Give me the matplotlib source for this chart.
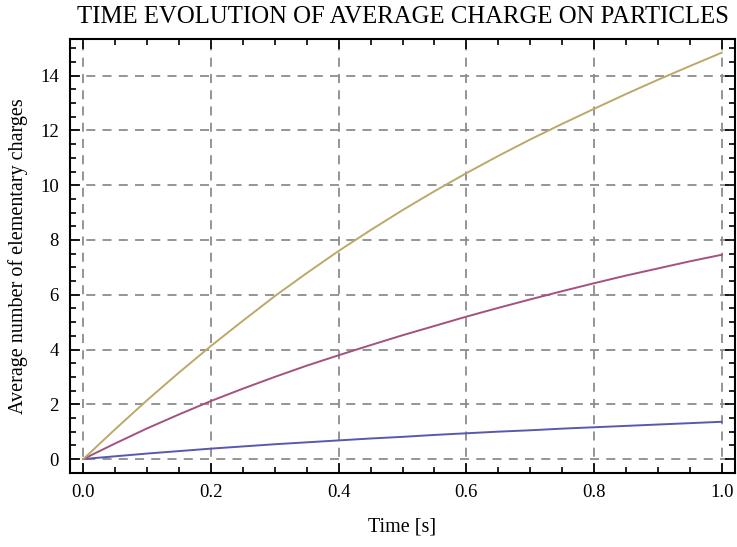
import matplotlib
matplotlib.use("Agg")
import matplotlib.pyplot as plt
from matplotlib.ticker import MultipleLocator

# time axis [s]
t = [0.0, 0.05, 0.1, 0.15, 0.2, 0.25, 0.3, 0.35, 0.4, 0.45, 0.5,
     0.55, 0.6, 0.65, 0.7, 0.75, 0.8, 0.85, 0.9, 0.95, 1.0]

# average number of elementary charges
q_blue = [0.0, 0.10, 0.20, 0.29, 0.38, 0.46, 0.54, 0.61, 0.68, 0.75, 0.81,
          0.88, 0.94, 1.00, 1.05, 1.11, 1.16, 1.21, 1.26, 1.31, 1.36]
q_purple = [0.0, 0.57, 1.12, 1.63, 2.12, 2.57, 3.00, 3.41, 3.79, 4.16, 4.52,
            4.86, 5.20, 5.52, 5.83, 6.13, 6.42, 6.70, 6.96, 7.22, 7.46]
q_tan = [0.0, 1.09, 2.15, 3.16, 4.13, 5.05, 5.95, 6.79, 7.60, 8.36, 9.09,
         9.78, 10.44, 11.07, 11.67, 12.24, 12.79, 13.33, 13.85, 14.35, 14.84]

plt.rcParams['font.family'] = ['Liberation Serif', 'DejaVu Serif']

fig = plt.figure(figsize=(7.37, 5.47), dpi=100)
ax = fig.add_axes([0.095, 0.1358, 0.9023, 0.7924])

ax.plot(t, q_blue, color='#5858b0', lw=1.4)
ax.plot(t, q_purple, color='#a5507e', lw=1.4)
ax.plot(t, q_tan, color='#bba96a', lw=1.4)

ax.set_xlim(-0.0208, 1.0208)
ax.set_ylim(-0.5, 15.33)
ax.xaxis.set_major_locator(MultipleLocator(0.2))
ax.xaxis.set_minor_locator(MultipleLocator(0.05))
ax.yaxis.set_major_locator(MultipleLocator(2))
ax.yaxis.set_minor_locator(MultipleLocator(0.5))
ax.xaxis.set_major_formatter(plt.FuncFormatter(lambda v, p: f"{v:.1f}"))
ax.tick_params(which='both', direction='in', top=True, right=True,
               labelsize=13.5, width=1.2)
ax.tick_params(which='major', length=7)
ax.tick_params(which='minor', length=4)
ax.tick_params(axis='x', which='major', pad=8)
ax.tick_params(axis='y', which='major', pad=8)
for s in ax.spines.values():
    s.set_linewidth(1.5)

ax.grid(True, which='major', ls=(0, (5, 4)), color='#8c8c8c', lw=1.3)

ax.set_title("TIME EVOLUTION OF AVERAGE CHARGE ON PARTICLES",
             fontsize=17.8, pad=12)
ax.set_xlabel("Time [s]", fontsize=14.5, labelpad=12)
ax.set_ylabel("Average number of elementary charges", fontsize=14.5,
              labelpad=9)

fig.savefig("out.png", dpi=100)
